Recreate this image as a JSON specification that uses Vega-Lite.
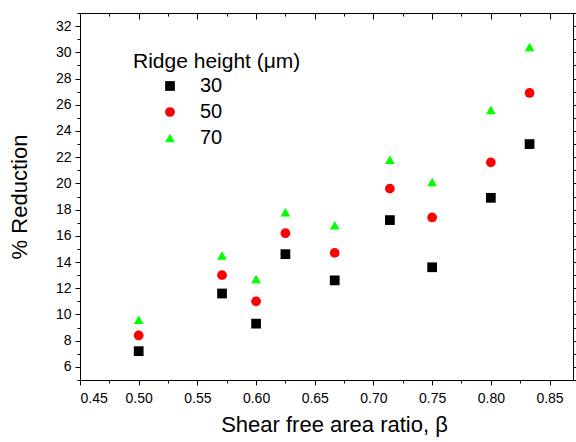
{
  "$schema": "https://vega.github.io/schema/vega-lite/v6.json",
  "width": 493,
  "height": 367,
  "autosize": "none",
  "padding": {"left": 80, "top": 13, "right": 3, "bottom": 62},
  "background": "white",
  "config": {
    "view": {"stroke": null},
    "font": "Liberation Sans",
    "axis": {
      "domainColor": "black", "domainWidth": 1, "tickColor": "black", "tickWidth": 1,
      "labelColor": "black", "labelFont": "Liberation Sans", "labelFontSize": 14,
      "titleFont": "Liberation Sans", "titleFontSize": 22, "titleFontWeight": "normal", "titleColor": "black",
      "grid": false
    }
  },
  "data": {
    "values": [
      {"beta": 0.5, "h": "30", "r": 7.2},
      {"beta": 0.571, "h": "30", "r": 11.6},
      {"beta": 0.6, "h": "30", "r": 9.3},
      {"beta": 0.625, "h": "30", "r": 14.6},
      {"beta": 0.667, "h": "30", "r": 12.6},
      {"beta": 0.714, "h": "30", "r": 17.2},
      {"beta": 0.75, "h": "30", "r": 13.6},
      {"beta": 0.8, "h": "30", "r": 18.9},
      {"beta": 0.833, "h": "30", "r": 23.0},
      {"beta": 0.5, "h": "50", "r": 8.4},
      {"beta": 0.571, "h": "50", "r": 13.0},
      {"beta": 0.6, "h": "50", "r": 11.0},
      {"beta": 0.625, "h": "50", "r": 16.2},
      {"beta": 0.667, "h": "50", "r": 14.7},
      {"beta": 0.714, "h": "50", "r": 19.6},
      {"beta": 0.75, "h": "50", "r": 17.4},
      {"beta": 0.8, "h": "50", "r": 21.6},
      {"beta": 0.833, "h": "50", "r": 26.9},
      {"beta": 0.5, "h": "70", "r": 9.6},
      {"beta": 0.571, "h": "70", "r": 14.5},
      {"beta": 0.6, "h": "70", "r": 12.7},
      {"beta": 0.625, "h": "70", "r": 17.8},
      {"beta": 0.667, "h": "70", "r": 16.8},
      {"beta": 0.714, "h": "70", "r": 21.8},
      {"beta": 0.75, "h": "70", "r": 20.1},
      {"beta": 0.8, "h": "70", "r": 25.6},
      {"beta": 0.833, "h": "70", "r": 30.4}
    ]
  },
  "resolve": {"axis": {"x": "independent", "y": "independent"}},
  "layer": [
    {
      "mark": {"type": "point", "filled": true, "opacity": 1},
      "encoding": {
        "x": {
          "field": "beta", "type": "quantitative",
          "scale": {"domain": [0.45, 0.87], "nice": false, "zero": false},
          "axis": {
            "orient": "bottom",
            "title": "Shear free area ratio, β",
            "titlePadding": 9,
            "titleX": 254,
            "values": [0.45, 0.475, 0.5, 0.525, 0.55, 0.575, 0.6, 0.625, 0.65, 0.675, 0.7, 0.725, 0.75, 0.775, 0.8, 0.825, 0.85],
            "tickSize": {"condition": {"test": "round(datum.value*1000) % 50 == 0", "value": 5}, "value": 3},
            "labelExpr": "round(datum.value*1000) % 50 == 0 ? format(datum.value, '.2f') : ''",
            "labelPadding": 6
          }
        },
        "y": {
          "field": "r", "type": "quantitative",
          "scale": {"domain": [5, 33], "nice": false, "zero": false},
          "axis": {
            "orient": "left",
            "title": "% Reduction",
            "titlePadding": 24,
            "values": [5, 6, 7, 8, 9, 10, 11, 12, 13, 14, 15, 16, 17, 18, 19, 20, 21, 22, 23, 24, 25, 26, 27, 28, 29, 30, 31, 32, 33],
            "tickSize": {"condition": {"test": "datum.value % 2 == 0", "value": 5}, "value": 3},
            "labelExpr": "datum.value % 2 == 0 ? datum.label : ''",
            "labelPadding": 4
          }
        },
        "color": {
          "field": "h", "type": "nominal",
          "scale": {"domain": ["30", "50", "70"], "range": ["#000000", "#ff0000", "#00ff00"]},
          "legend": {
            "title": "Ridge height (μm)",
            "orient": "none", "legendX": 53, "legendY": 38,
            "titleFont": "Liberation Sans", "titleFontSize": 21, "titleFontWeight": "normal", "titleColor": "black",
            "labelFont": "Liberation Sans", "labelFontSize": 20, "labelColor": "black",
            "symbolSize": 80, "rowPadding": 6, "labelOffset": 20, "padding": 0, "titlePadding": 4,
            "offset": 0, "symbolOffset": 27
          }
        },
        "shape": {
          "field": "h", "type": "nominal",
          "scale": {"domain": ["30", "50", "70"], "range": ["square", "circle", "triangle-up"]},
          "legend": null
        },
        "size": {
          "field": "h", "type": "nominal",
          "scale": {"domain": ["30", "50", "70"], "range": [95, 95, 175]},
          "legend": null
        }
      }
    },
    {
      "mark": {"type": "point", "opacity": 0},
      "encoding": {
        "x": {
          "field": "beta", "type": "quantitative",
          "scale": {"domain": [0.45, 0.87], "nice": false, "zero": false},
          "axis": {
            "orient": "top", "title": null, "labels": false,
            "values": [0.45, 0.475, 0.5, 0.525, 0.55, 0.575, 0.6, 0.625, 0.65, 0.675, 0.7, 0.725, 0.75, 0.775, 0.8, 0.825, 0.85],
            "tickSize": {"condition": {"test": "round(datum.value*1000) % 50 == 0", "value": -6}, "value": -3}
          }
        },
        "y": {
          "field": "r", "type": "quantitative",
          "scale": {"domain": [5, 33], "nice": false, "zero": false},
          "axis": {
            "orient": "right", "title": null, "labels": false,
            "values": [5, 6, 7, 8, 9, 10, 11, 12, 13, 14, 15, 16, 17, 18, 19, 20, 21, 22, 23, 24, 25, 26, 27, 28, 29, 30, 31, 32, 33],
            "tickSize": {"condition": {"test": "datum.value % 2 == 0", "value": 5}, "value": 3}
          }
        }
      }
    }
  ]
}
